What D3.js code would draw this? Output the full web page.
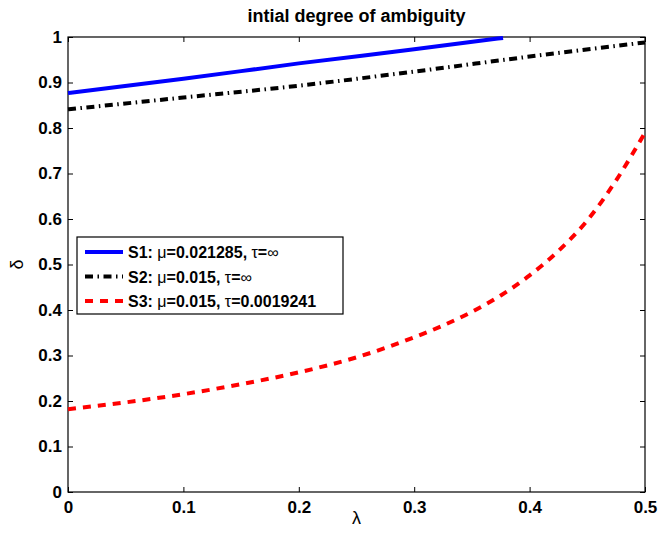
<!DOCTYPE html>
<html lang="en">
<head>
<meta charset="UTF-8">
<script src="https://d3js.org/d3.v7.min.js"></script>
<style>
    body { margin: 0; background: white; }
    text { font-family: "Liberation Sans", Arial, sans-serif; }
</style>
</head>
<body>
<div id="chart"></div>
<script>
    // data
    var lambdaS1 = [0, 0.1, 0.2, 0.3, 0.377];
    var deltaS1 = [0.877, 0.908, 0.942, 0.973, 0.998];
    var lambdaS2 = [0, 0.1, 0.2, 0.3, 0.4, 0.5];
    var deltaS2 = [0.841, 0.867, 0.893, 0.924, 0.957, 0.988];
    var lambdaS3 = [0, 0.05, 0.1, 0.15, 0.2, 0.25, 0.3, 0.325, 0.35, 0.375, 0.4, 0.425, 0.45, 0.475, 0.5];
    var deltaS3 = [0.182, 0.197, 0.215, 0.237, 0.263, 0.296, 0.340, 0.366, 0.396, 0.432, 0.476, 0.530, 0.597, 0.685, 0.79];
    var xTicks = [0, 0.1, 0.2, 0.3, 0.4, 0.5];
    var yTicks = [0, 0.1, 0.2, 0.3, 0.4, 0.5, 0.6, 0.7, 0.8, 0.9, 1];
    var legendLabels = [
        [["S1: ", "bold"], ["\u03bc", "normal"], ["=0.021285, ", "bold"], ["\u03c4", "normal"], ["=", "bold"], ["\u221e", "normal"]],
        [["S2: ", "bold"], ["\u03bc", "normal"], ["=0.015, ", "bold"], ["\u03c4", "normal"], ["=", "bold"], ["\u221e", "normal"]],
        [["S3: ", "bold"], ["\u03bc", "normal"], ["=0.015, ", "bold"], ["\u03c4", "normal"], ["=0.0019241", "bold"]]
    ];

    var W = 658, H = 537;
    var pLeft = 68, pRight = 645, pTop = 37, pBottom = 492;

    var svg = d3.select("#chart").append("svg")
        .attr("width", W)
        .attr("height", H);

    var xScale = d3.scaleLinear().domain([0, 0.5]).range([pLeft, pRight]);
    var yScale = d3.scaleLinear().domain([0, 1]).range([pBottom, pTop]);

    var series = [
        {x: lambdaS1, y: deltaS1, color: "#0000ff", dash: null},
        {x: lambdaS2, y: deltaS2, color: "#000000", dash: "8,4.5,1.5,4.5"},
        {x: lambdaS3, y: deltaS3, color: "#ff0000", dash: "8,7"}
    ];

    var line = d3.line()
        .x(function(d) { return xScale(d[0]); })
        .y(function(d) { return yScale(d[1]); })
        .curve(d3.curveMonotoneX);

    // axes, ticks on all sides pointing in
    svg.append("g")
        .attr("transform", "translate(0," + pBottom + ")")
        .call(d3.axisBottom(xScale).tickValues(xTicks).tickSizeInner(-5).tickSizeOuter(0)
            .tickFormat(d3.format("")))
        .call(function(g) {
            g.select(".domain").remove();
            g.selectAll("text").attr("font-size", "17px").attr("font-weight", "bold").attr("fill", "#000")
                .attr("dy", "0.71em").attr("y", 9);
        });
    svg.append("g")
        .attr("transform", "translate(" + pLeft + ",0)")
        .call(d3.axisLeft(yScale).tickValues(yTicks).tickSizeInner(-5).tickSizeOuter(0)
            .tickFormat(d3.format("")))
        .call(function(g) {
            g.select(".domain").remove();
            g.selectAll("text").attr("font-size", "17px").attr("font-weight", "bold").attr("fill", "#000")
                .attr("x", -6);
        });
    svg.append("g")
        .attr("transform", "translate(0," + pTop + ")")
        .call(d3.axisTop(xScale).tickValues(xTicks).tickSizeInner(-5).tickSizeOuter(0).tickFormat(""))
        .call(function(g) { g.select(".domain").remove(); });
    svg.append("g")
        .attr("transform", "translate(" + pRight + ",0)")
        .call(d3.axisRight(yScale).tickValues(yTicks).tickSizeInner(-5).tickSizeOuter(0).tickFormat(""))
        .call(function(g) { g.select(".domain").remove(); });

    svg.selectAll(".tick line").attr("stroke", "#000");

    svg.append("rect")
        .attr("x", pLeft).attr("y", pTop)
        .attr("width", pRight - pLeft).attr("height", pBottom - pTop)
        .attr("fill", "none").attr("stroke", "#000").attr("stroke-width", 1.2);

    // curves
    series.forEach(function(s) {
        var pts = s.x.map(function(v, i) { return [v, s.y[i]]; });
        svg.append("path")
            .datum(pts)
            .attr("d", line)
            .attr("fill", "none")
            .attr("stroke", s.color)
            .attr("stroke-width", 4)
            .attr("stroke-dasharray", s.dash);
    });

    // title and axis labels
    svg.append("text")
        .attr("x", (pLeft + pRight) / 2).attr("y", 22)
        .attr("text-anchor", "middle")
        .attr("font-size", "18px").attr("font-weight", "bold")
        .text("intial degree of ambiguity");
    svg.append("text")
        .attr("x", (pLeft + pRight) / 2).attr("y", 524)
        .attr("text-anchor", "middle")
        .attr("font-size", "18px")
        .text("\u03bb");
    svg.append("text")
        .attr("transform", "translate(23," + ((pTop + pBottom) / 2) + ") rotate(-90)")
        .attr("text-anchor", "middle")
        .attr("font-size", "18px")
        .text("\u03b4");

    // legend
    var legend = svg.append("g");
    legend.append("rect")
        .attr("x", 77).attr("y", 237)
        .attr("width", 266).attr("height", 77)
        .attr("fill", "white").attr("stroke", "#000").attr("stroke-width", 1.2);
    legendLabels.forEach(function(parts, i) {
        var yy = 252 + i * 24.5;
        legend.append("line")
            .attr("x1", 85).attr("x2", 123)
            .attr("y1", yy).attr("y2", yy)
            .attr("stroke", series[i].color)
            .attr("stroke-width", 4)
            .attr("stroke-dasharray", series[i].dash);
        var t = legend.append("text")
            .attr("x", 128).attr("y", yy + 6)
            .attr("font-size", "16px");
        parts.forEach(function(p) {
            t.append("tspan").attr("font-weight", p[1]).text(p[0]);
        });
    });
</script>
</body>
</html>
